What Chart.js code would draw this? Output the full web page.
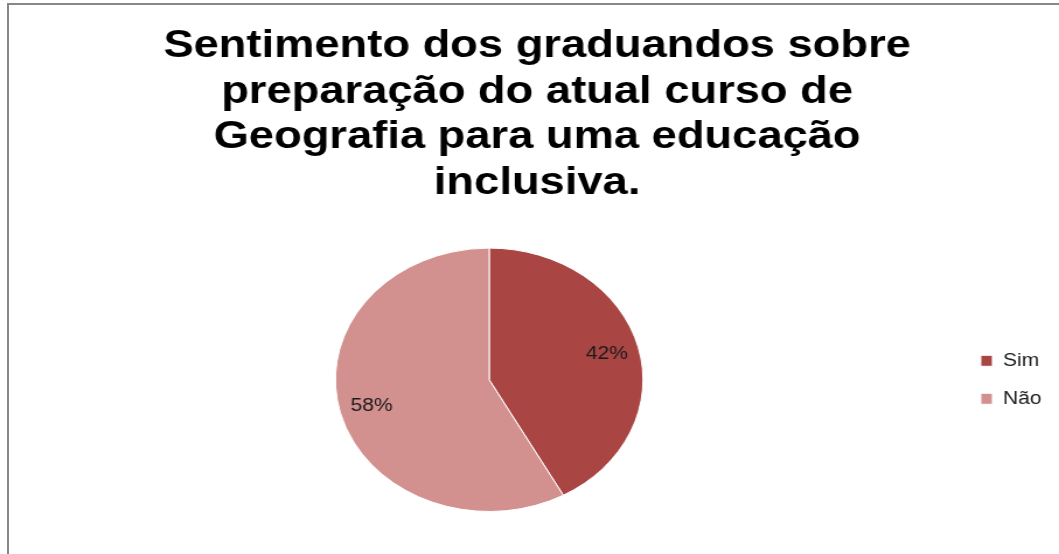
<!DOCTYPE html>
<html lang="pt">
<head>
  <meta charset="UTF-8">
  <title>Sentimento dos graduandos</title>
  <script src="https://cdn.jsdelivr.net/npm/chart.js"></script>
  <style>
    body {
      margin: 0;
      background: #ffffff;
      overflow: hidden;
    }
    .frame {
      position: absolute;
      left: 7px;
      top: 3px;
      width: 1100px;
      height: 600px;
      border-left: 2px solid #878787;
      border-top: 2px solid #878787;
      pointer-events: none;
    }
    /* the original picture is stretched sideways, so the whole chart is too */
    .wrap {
      position: absolute;
      left: 0;
      top: 0;
      width: 907px;
      height: 554px;
      transform: scaleX(1.1676);
      transform-origin: 0 0;
    }
  </style>
</head>
<body>

  <div class="wrap"><canvas id="pie"></canvas></div>
  <div class="frame"></div>

  <script>
    const categories = ["Sim", "Não"];
    const percentages = [42, 58];
    const colors = ["#A94644", "#D2918F"];
    const titleLines = [
      "Sentimento dos graduandos sobre",
      "preparação do atual curso de",
      "Geografia para uma educação",
      "inclusiva."
    ];

    // percentage labels inside the slices
    const sliceLabels = {
      id: "sliceLabels",
      afterDatasetsDraw(chart) {
        const ctx = chart.ctx;
        const meta = chart.getDatasetMeta(0);
        ctx.save();
        ctx.font = "18px 'Liberation Sans'";
        ctx.fillStyle = "#1a1a1a";
        ctx.textAlign = "center";
        ctx.textBaseline = "middle";
        meta.data.forEach((arc, i) => {
          const p = arc.getProps(["x", "y", "startAngle", "endAngle", "outerRadius"], true);
          const mid = (p.startAngle + p.endAngle) / 2;
          const d = p.outerRadius * 0.79;
          ctx.fillText(percentages[i] + "%", p.x + Math.cos(mid) * d, p.y + Math.sin(mid) * d);
        });
        ctx.restore();
      }
    };

    new Chart(document.getElementById("pie"), {
      type: "pie",
      data: {
        labels: categories,
        datasets: [{
          data: percentages,
          backgroundColor: colors,
          borderColor: "#ffffff",
          borderWidth: 1
        }]
      },
      options: {
        responsive: true,
        maintainAspectRatio: false,
        animation: false,
        layout: {
          padding: { left: 18, right: 5, top: 0, bottom: 42 }
        },
        plugins: {
          title: {
            display: true,
            text: titleLines,
            color: "#000000",
            font: { family: "'Liberation Sans', Arial, sans-serif", size: 38.8, weight: "bold", lineHeight: 1.17 },
            padding: { top: 24, bottom: 42 }
          },
          legend: {
            position: "right",
            fullSize: false,
            labels: {
              color: "#1a1a1a",
              font: { family: "'Liberation Sans', Arial, sans-serif", size: 18 },
              boxWidth: 10,
              boxHeight: 11,
              padding: 20
            }
          },
          tooltip: { enabled: false }
        }
      },
      plugins: [sliceLabels]
    });
  </script>

</body>
</html>
